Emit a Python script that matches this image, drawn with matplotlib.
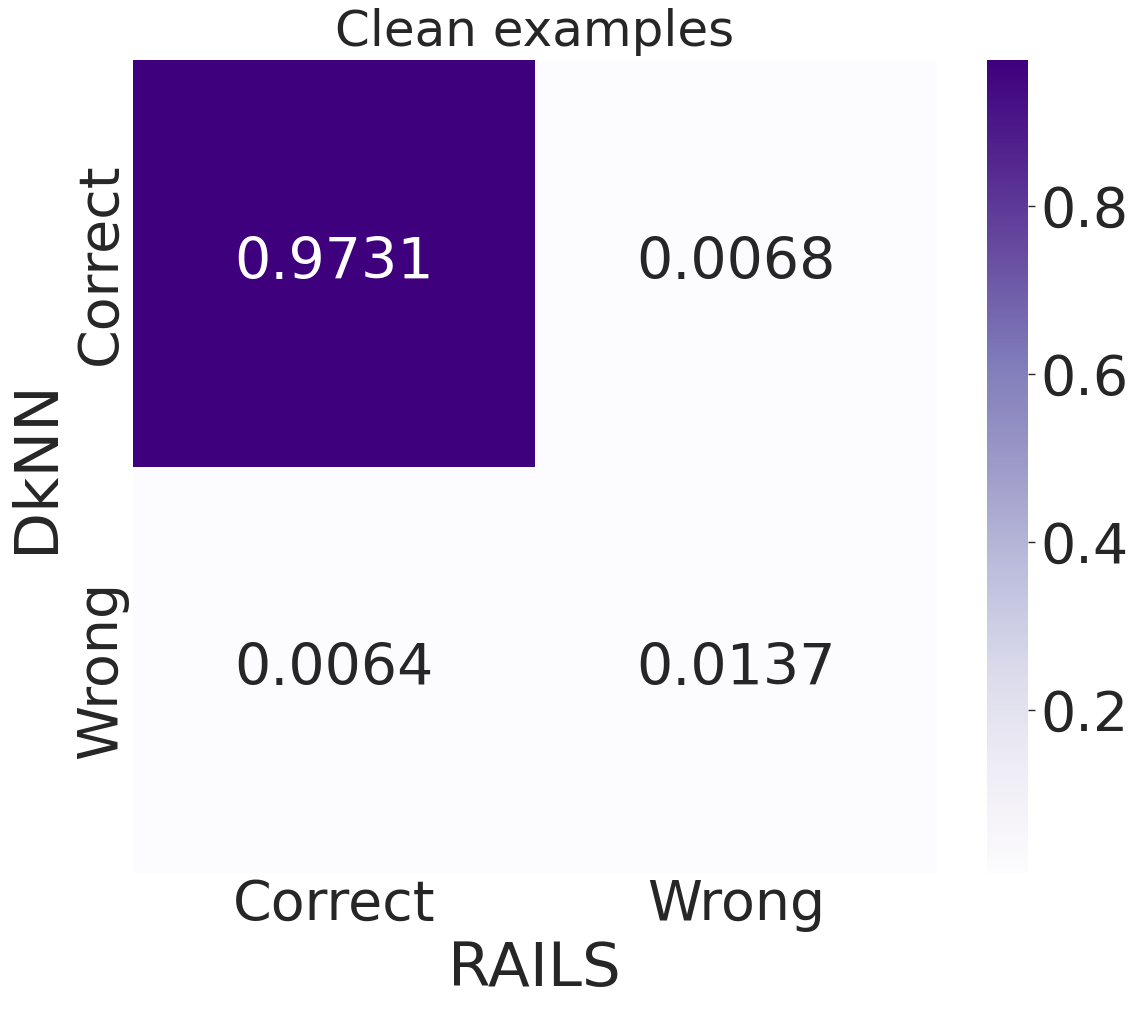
import numpy as np
import seaborn as sns
from matplotlib import pyplot as plt

rails_labels = ["Correct", "Wrong"]
dknn_labels = ["Correct", "Wrong"]
rates = np.array([[0.9731, 0.0068],
                  [0.0064, 0.0137]])

sns.set_theme(style="white")
plt.rcParams["font.family"] = ["DejaVu Sans"]
TEXT = "#262626"

fig = plt.figure(figsize=(11.32, 10.09), dpi=100)
ax = fig.add_axes([0.1175, 0.1348, 0.710, 0.8057])
cax = fig.add_axes([0.872, 0.1348, 0.0362, 0.8057])

sns.heatmap(rates, ax=ax, cbar_ax=cax, cmap="Purples", annot=True, fmt=".4f",
            annot_kws={"size": 41}, xticklabels=rails_labels, yticklabels=dknn_labels)

ax.set_xlabel("RAILS", fontsize=44, color=TEXT, labelpad=6)
ax.set_ylabel("DkNN", fontsize=44, color=TEXT, labelpad=6)
ax.set_title("Clean examples", fontsize=36, color=TEXT, pad=10)
ax.tick_params(axis="both", labelsize=40, colors=TEXT, length=0)
plt.setp(ax.get_yticklabels(), rotation=90, va="center")

cax.set_yticks([0.2, 0.4, 0.6, 0.8])
cax.tick_params(labelsize=40, colors=TEXT, length=5, width=1)

fig.savefig("out.png", dpi=100)
